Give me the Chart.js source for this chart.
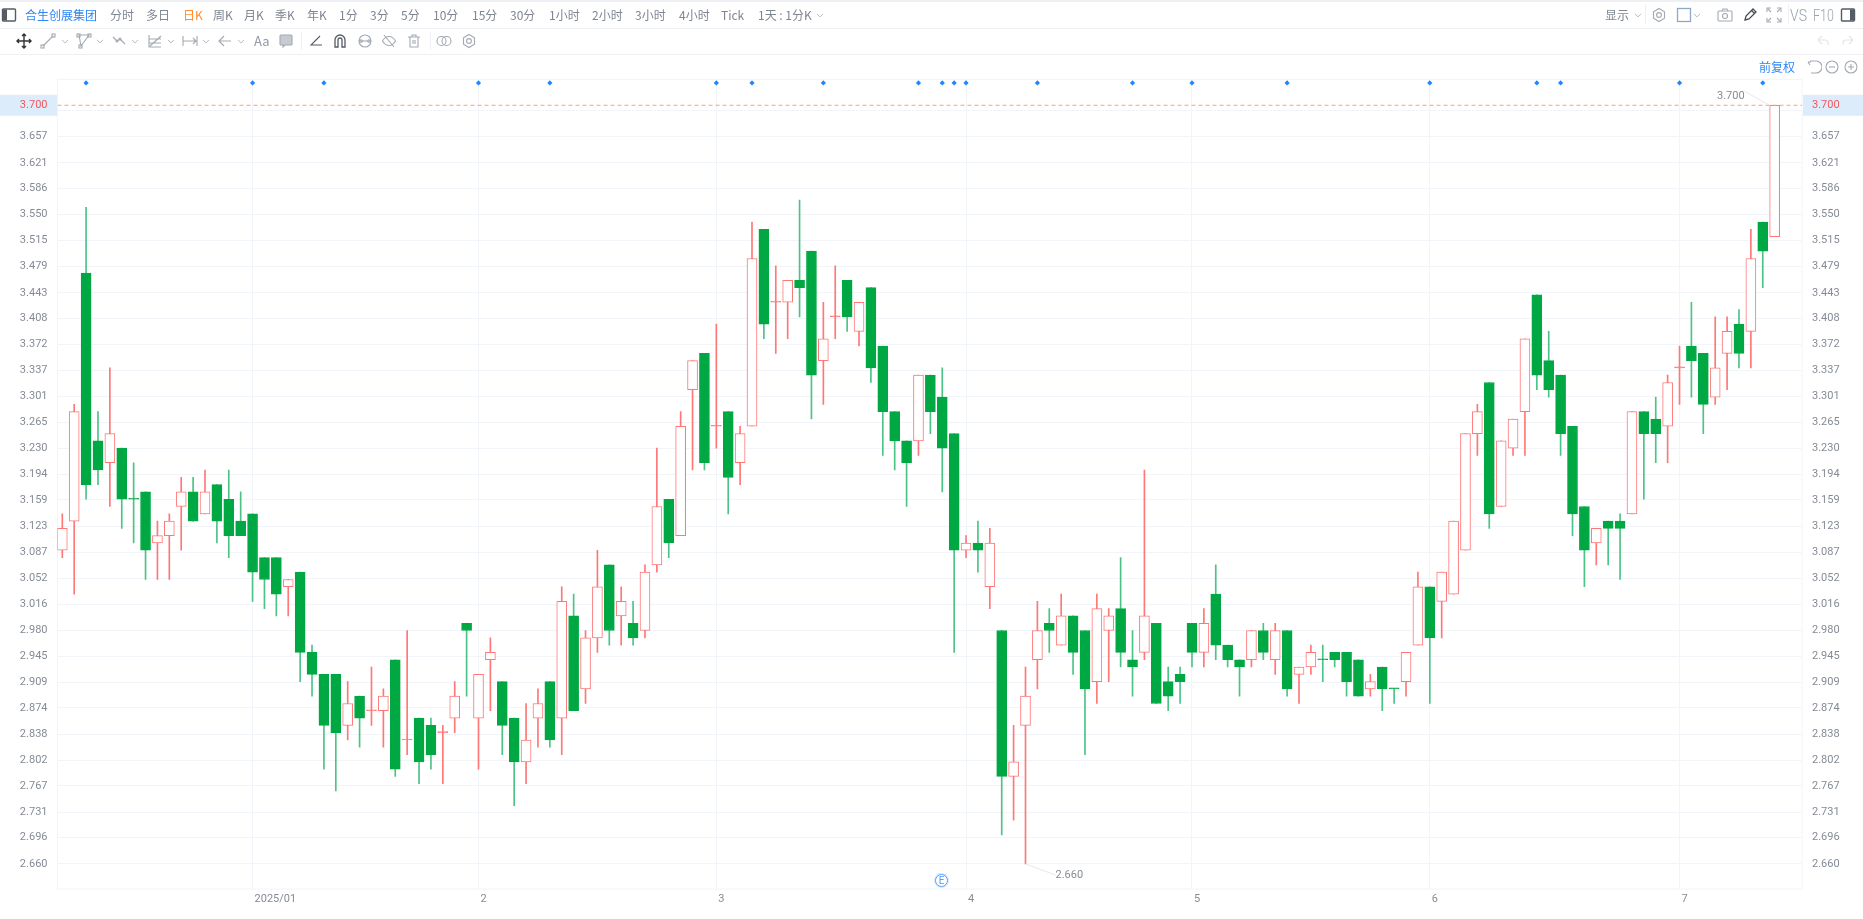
<!DOCTYPE html>
<html>
<head>
<meta charset="utf-8">
<title>合生创展集团 日K</title>
<script src="https://cdn.jsdelivr.net/npm/chart.js@4"></script>
<style>
html, body { margin: 0; padding: 0; background: #fff; overflow: hidden; }
#wrap { position: relative; width: 1863px; height: 919px; overflow: hidden; font-family: "Noto Sans CJK SC", "Noto Sans", sans-serif; }
canvas { position: absolute; left: 0; top: 0; }
.t { position: absolute; font-size: 12px; line-height: 16px; color: #7f8691; white-space: nowrap; transform: translateY(-50%); }
.rule { position: absolute; background: #eef0f3; }
svg.i { position: absolute; transform: translate(-50%, -50%); fill: none; stroke: #a3a9b2; stroke-width: 1.1; }
#ev { position: absolute; left: 935px; top: 874px; width: 11px; height: 11px; border: 1.5px solid #4d9fff; border-radius: 50%; font: 10px/11px Roboto, sans-serif; color: #4d9fff; text-align: center; box-shadow: 0 0 0 1px #d5e8ff; }
</style>
</head>
<body>
<div id="wrap">
  <canvas id="chart1" width="1863" height="919"></canvas>
  <div id="bar"></div>
  <div id="ev">E</div>
</div>
<script>
const opens = [
  3.09,3.13,3.47,3.24,3.21,3.23,3.16,3.17,3.10,3.11,
  3.15,3.17,3.14,3.18,3.16,3.13,3.14,3.08,3.08,3.04,
  3.06,2.95,2.92,2.92,2.85,2.89,2.87,2.87,2.94,2.83,
  2.86,2.85,2.84,2.86,2.99,2.86,2.94,2.91,2.86,2.80,
  2.86,2.91,2.86,3.00,2.90,2.97,3.07,3.00,2.99,2.98,
  3.07,3.16,3.11,3.31,3.36,3.26,3.28,3.21,3.26,3.53,
  3.43,3.43,3.46,3.50,3.35,3.41,3.46,3.39,3.45,3.37,
  3.28,3.24,3.24,3.33,3.30,3.25,3.09,3.10,3.04,2.98,
  2.78,2.85,2.94,2.99,2.96,3.00,2.98,2.91,2.98,3.01,
  2.94,2.95,2.99,2.91,2.92,2.99,2.95,3.03,2.96,2.94,
  2.94,2.98,2.94,2.98,2.92,2.93,2.94,2.95,2.95,2.94,
  2.90,2.93,2.90,2.91,2.96,3.04,3.02,3.03,3.09,3.25,
  3.32,3.15,3.23,3.28,3.44,3.35,3.33,3.26,3.15,3.10,
  3.13,3.13,3.14,3.28,3.27,3.26,3.34,3.37,3.36,3.30,
  3.36,3.40,3.39,3.54,3.52];
const highs = [
  3.14,3.29,3.56,3.28,3.34,3.23,3.21,3.17,3.13,3.14,
  3.19,3.19,3.20,3.18,3.20,3.17,3.14,3.08,3.08,3.05,
  3.06,2.96,2.92,2.92,2.91,2.89,2.93,2.90,2.94,2.98,
  2.86,2.86,2.85,2.91,2.99,2.92,2.97,2.91,2.86,2.88,
  2.90,2.91,3.04,3.03,2.98,3.09,3.07,3.04,3.02,3.07,
  3.23,3.16,3.28,3.35,3.36,3.40,3.28,3.26,3.54,3.53,
  3.48,3.46,3.57,3.50,3.43,3.48,3.46,3.43,3.45,3.37,
  3.28,3.24,3.33,3.33,3.34,3.25,3.11,3.13,3.12,2.98,
  2.85,2.93,3.02,3.01,3.03,3.00,2.98,3.03,3.01,3.08,
  2.98,3.20,2.99,2.93,2.93,2.99,3.01,3.07,2.96,2.94,
  2.98,2.99,2.99,2.98,2.93,2.96,2.96,2.95,2.95,2.94,
  2.92,2.93,2.90,2.95,3.06,3.04,3.06,3.13,3.25,3.29,
  3.32,3.24,3.27,3.38,3.44,3.39,3.33,3.26,3.15,3.12,
  3.13,3.14,3.28,3.28,3.30,3.33,3.37,3.43,3.36,3.41,
  3.41,3.42,3.53,3.54,3.70];
const lows = [
  3.08,3.03,3.16,3.18,3.15,3.12,3.10,3.05,3.05,3.05,
  3.09,3.13,3.14,3.10,3.08,3.11,3.02,3.01,3.00,3.00,
  2.91,2.89,2.79,2.76,2.83,2.82,2.85,2.82,2.78,2.81,
  2.77,2.79,2.77,2.84,2.89,2.79,2.87,2.81,2.74,2.77,
  2.82,2.82,2.81,2.87,2.88,2.95,2.96,2.96,2.96,2.97,
  3.06,3.08,3.11,3.20,3.20,3.23,3.14,3.18,3.26,3.38,
  3.36,3.38,3.41,3.27,3.29,3.38,3.39,3.37,3.32,3.22,
  3.20,3.15,3.22,3.25,3.17,2.95,3.08,3.06,3.01,2.70,
  2.72,2.66,2.90,2.95,2.96,2.92,2.81,2.88,2.91,2.93,
  2.89,2.94,2.88,2.87,2.88,2.93,2.93,2.94,2.93,2.89,
  2.93,2.94,2.92,2.89,2.88,2.92,2.91,2.93,2.89,2.89,
  2.89,2.87,2.88,2.89,2.96,2.88,2.97,3.03,3.09,3.22,
  3.12,3.15,3.22,3.22,3.31,3.30,3.22,3.11,3.04,3.07,
  3.07,3.05,3.14,3.16,3.21,3.21,3.29,3.30,3.25,3.29,
  3.31,3.34,3.34,3.45,3.52];
const closes = [
  3.12,3.28,3.18,3.20,3.25,3.16,3.16,3.09,3.11,3.13,
  3.17,3.13,3.17,3.13,3.11,3.11,3.06,3.05,3.03,3.05,
  2.95,2.92,2.85,2.84,2.88,2.86,2.87,2.89,2.79,2.83,
  2.80,2.81,2.84,2.89,2.98,2.92,2.95,2.85,2.80,2.83,
  2.88,2.83,3.02,2.87,2.97,3.04,2.98,3.02,2.97,3.06,
  3.15,3.10,3.26,3.35,3.21,3.26,3.19,3.25,3.49,3.40,
  3.43,3.46,3.45,3.33,3.38,3.41,3.41,3.43,3.34,3.28,
  3.24,3.21,3.33,3.28,3.23,3.09,3.10,3.09,3.10,2.78,
  2.80,2.89,2.98,2.98,3.00,2.95,2.90,3.01,3.00,2.95,
  2.93,3.00,2.88,2.89,2.91,2.95,2.99,2.96,2.94,2.93,
  2.98,2.95,2.98,2.90,2.93,2.95,2.94,2.94,2.91,2.89,
  2.91,2.90,2.90,2.95,3.04,2.97,3.06,3.13,3.25,3.28,
  3.14,3.24,3.27,3.38,3.33,3.31,3.25,3.14,3.09,3.12,
  3.12,3.12,3.28,3.25,3.25,3.32,3.34,3.35,3.29,3.34,
  3.39,3.36,3.49,3.50,3.70];

// sessions where the month changes, and the label under each
const monthIndex = [16, 35, 55, 76, 95, 115, 136];
const monthLabels = ['2025/01', '2', '3', '4', '5', '6', '7'];
// sessions flagged with a blue dot in the top row
const eventIndex = [2, 16, 22, 35, 41, 55, 58, 64, 72, 74, 75, 76, 82, 90, 95, 103, 115, 124, 126, 136, 143];

const priceTicks = [2.660,2.696,2.731,2.767,2.802,2.838,2.874,2.909,2.945,2.980,3.016,3.052,3.087,3.123,3.159,3.194,3.230,3.265,3.301,3.337,3.372,3.408,3.443,3.479,3.515,3.550,3.586,3.621,3.657,3.693];
const lastPrice = 3.700;
const highPrice = 3.700;
const lowPrice = 2.660;
const eventRowPrice = 3.7306;

const RED = '#ff7777', GREEN = '#00a843', GREEN_WICK = '#4cc386', GRID = '#f1f4f8', TXT = '#858b95';
const AXIS_FONT = { family: 'Roboto', size: 11 };

function isUp(i) {
  if (closes[i] !== opens[i]) return closes[i] > opens[i];
  return i > 0 && closes[i] > closes[i - 1];
}
const idx = opens.map((v, i) => i);
const bodyData = idx.map(i => ({ x: i, y: [Math.min(opens[i], closes[i]), Math.max(opens[i], closes[i])] }));
const wickData = idx.map(i => ({ x: i, y: [lows[i], highs[i]] }));
const eventData = eventIndex.map(i => ({ x: i, y: eventRowPrice }));

const X_MIN = -0.404, X_MAX = 146.3;

function sideTicks(isRight) {
  return {
    min: 2.6257, max: 3.7356,
    position: isRight ? 'right' : 'left',
    afterBuildTicks: s => { s.ticks = priceTicks.concat(lastPrice).map(v => ({ value: v })); },
    afterFit: s => { s.width = isRight ? 61 : 57.5; },
    border: { display: false },
    grid: {
      drawOnChartArea: !isRight, drawTicks: false,
      color: c => (c.tick && c.tick.value === lastPrice ? 'transparent' : GRID)
    },
    ticks: {
      padding: 10, autoSkip: false, font: AXIS_FONT,
      color: c => (c.tick.value === lastPrice ? '#f2575f' : TXT),
      callback: v => (v === 3.693 ? '' : v.toFixed(3))
    }
  };
}

const decor = {
  id: 'decor',
  beforeDraw(chart) {
    const c = chart.ctx, a = chart.chartArea, y = chart.scales.y.getPixelForValue(lastPrice);
    c.save();
    c.fillStyle = '#ddecfb';
    c.fillRect(0, y - 10.5, a.left, 21);
    c.fillRect(a.right + 1, y - 10.5, 1863 - a.right - 1, 21);
    c.strokeStyle = GRID;
    c.strokeRect(a.left, a.top, a.right - a.left, a.bottom - a.top);
    c.restore();
  },
  afterDraw(chart) {
    const c = chart.ctx, xs = chart.scales.x, ys = chart.scales.y;
    const hx = xs.getPixelForValue(highs.indexOf(highPrice)), hy = ys.getPixelForValue(highPrice);
    const lx = xs.getPixelForValue(lows.indexOf(lowPrice)), ly = ys.getPixelForValue(lowPrice);
    c.save();
    c.strokeStyle = '#e4e7ec';
    c.beginPath();
    c.moveTo(hx - 5, hy); c.lineTo(hx - 30, hy - 14);
    c.moveTo(lx, ly); c.lineTo(lx + 30, ly + 11);
    c.stroke();
    c.fillStyle = TXT;
    c.font = '11px Roboto';
    c.textBaseline = 'middle';
    c.textAlign = 'right';
    c.fillText(highPrice.toFixed(3), hx - 30, hy - 9);
    c.textAlign = 'left';
    c.fillText(lowPrice.toFixed(3), lx + 30, ly + 11);
    c.restore();
  }
};

const chart1 = new Chart(document.getElementById('chart1').getContext('2d'), {
  type: 'bar',
  data: {
    datasets: [
      { type: 'scatter', data: eventData, order: 0, pointStyle: 'rectRot', pointRadius: 2.6, backgroundColor: '#1f86ff', borderWidth: 0, clip: false },
      { type: 'line', data: [{ x: X_MIN, y: lastPrice }, { x: X_MAX, y: lastPrice }], order: 1, borderColor: '#ffa264', borderWidth: 1, borderDash: [4, 3], pointRadius: 0 },
      {
        data: bodyData, order: 2, barThickness: 10, minBarLength: 1, grouped: false, borderWidth: 1, borderSkipped: false,
        backgroundColor: c => (isUp(c.dataIndex) ? (opens[c.dataIndex] === closes[c.dataIndex] ? RED : '#fff') : GREEN),
        borderColor: c => (isUp(c.dataIndex) ? RED : GREEN)
      },
      {
        data: wickData, order: 3, barThickness: 1, grouped: false, borderWidth: 0,
        backgroundColor: c => (isUp(c.dataIndex) ? RED : GREEN_WICK)
      }
    ]
  },
  plugins: [decor],
  options: {
    responsive: false, animation: false, devicePixelRatio: 1,
    layout: { padding: { top: 79.3, left: 0, right: 0, bottom: 0 } },
    plugins: { legend: { display: false }, tooltip: { enabled: false } },
    scales: {
      x: {
        type: 'linear', min: X_MIN, max: X_MAX, offset: false,
        afterBuildTicks: s => { s.ticks = monthIndex.map(v => ({ value: v })); },
        afterFit: s => { s.height = 30; },
        border: { display: false },
        grid: { color: GRID, drawTicks: false, offset: false },
        ticks: {
          align: 'start', labelOffset: 2, padding: 4, maxRotation: 0, autoSkip: false, font: AXIS_FONT, color: TXT,
          callback: v => monthLabels[monthIndex.indexOf(v)]
        }
      },
      y: sideTicks(false),
      y2: sideTicks(true)
    }
  }
});

// toolbar around the chart
const periods = [['分时',110],['多日',146],['周K',213],['月K',244],['季K',275],['年K',307],['1分',339],['3分',370],['5分',401],['10分',433],['15分',472],['30分',510],['1小时',549],['2小时',592],['3小时',635],['4小时',679],['Tick',721],['1天 : 1分K',758],['显示',1605]];
const bar = document.getElementById('bar');
function text(s, x, y, css) {
  const d = document.createElement('div');
  d.className = 't'; d.textContent = s;
  d.style.left = x + 'px'; d.style.top = y + 'px';
  if (css) d.style.cssText += css;
  bar.appendChild(d);
}
function rule(x, y, w, h) {
  const d = document.createElement('div');
  d.className = 'rule';
  d.style.cssText = `left:${x}px;top:${y}px;width:${w}px;height:${h}px`;
  bar.appendChild(d);
}
function icon(paths, x, y, css) {
  bar.insertAdjacentHTML('beforeend', `<svg class="i" width="16" height="16" viewBox="0 0 16 16" style="left:${x}px;top:${y}px;${css || ''}">${paths}</svg>`);
}
const CHEV = '<path d="M4 6.5l4 4 4-4"/>';
const GEAR = '<path d="M8 1.5l5.5 3.2v6.6L8 14.5l-5.5-3.2V4.700z"/><circle cx="8" cy="8" r="2.400"/>';
const PANEL = '<rect x="1.500" y="2" width="13" height="12" rx="1"/>';

rule(0, 0, 1863, 1.5); rule(0, 28, 1863, 1); rule(0, 54, 1863, 1);
rule(301, 32, 1, 18); rule(430, 32, 1, 18); rule(1645, 4, 1, 20); rule(1788, 4, 1, 20);

text('合生创展集团', 25, 15, 'color:#2f86f6');
text('日K', 183, 15, 'color:#ff8b33');
periods.forEach(p => text(p[0], p[1], 15));
text('VS', 1790, 15, 'font:300 16px Roboto;color:#98a2ad;transform-origin:left center;transform:translateY(-50%) scaleX(.88)');
text('F10', 1813, 15, 'font:300 16px Roboto;color:#98a2ad;transform-origin:left center;transform:translateY(-50%) scaleX(.78)');
text('前复权', 1759, 67, 'color:#2f86f6');
text('Aa', 254, 41, 'font-size:13px;color:#9299a3');

icon(PANEL + '<rect x="2" y="2.500" width="4" height="11" fill="#555c66" stroke="none"/>', 9, 15, 'stroke:#555c66;stroke-width:1.4');
icon(PANEL + '<rect x="10" y="2.500" width="4" height="11" fill="#555c66" stroke="none"/>', 1848, 15, 'stroke:#555c66;stroke-width:1.4');
icon('<path d="M8 1v14M1 8h14M6 3l2-2 2 2M6 13l2 2 2-2M3 6L1 8l2 2M13 6l2 2-2 2"/>', 24, 41, 'stroke:#333;stroke-width:1.4');
icon('<path d="M3 13L13 3"/><rect x="1" y="12" width="3" height="3"/><rect x="12" y="1" width="3" height="3"/>', 48, 41);
icon('<path d="M3 2h10L5 13z"/><rect x="1" y="1" width="3" height="3"/><rect x="12" y="1" width="3" height="3"/><rect x="3" y="12" width="3" height="3"/>', 84, 41);
icon('<path d="M2 4l4 4 3-2 5 5"/><circle cx="6" cy="8" r="1"/><circle cx="9" cy="6" r="1"/>', 119, 41);
icon('<path d="M2 2v12h12M2 10h12M2 6h12M3 13L14 3"/>', 155, 41);
icon('<path d="M1 3v10M15 3v10M1 8h14M11 5l3 3-3 3"/>', 190, 41);
icon('<path d="M2 8h12M7 3L2 8l5 5"/>', 225, 41);
icon('<path d="M3 2h10a1 1 0 011 1v8a1 1 0 01-1 1H7l-2 2v-2H3a1 1 0 01-1-1V3a1 1 0 011-1z" fill="#c6cbd2"/>', 286, 41);
icon('<path d="M12 3L3 12h11"/>', 316, 41, 'stroke:#555c66');
icon('<path d="M3 14V7a5 5 0 0110 0v7h-3V7a2 2 0 00-4 0v7z"/>', 340, 41, 'stroke:#555c66;stroke-width:1.3');
icon('<circle cx="8" cy="8" r="6"/><path d="M2 8h12"/><circle cx="4" cy="8" r="1.300"/><circle cx="12" cy="8" r="1.300"/>', 365, 41);
icon('<path d="M1.500 8s2.500-4.500 6.500-4.500S14.500 8 14.500 8 12 12.500 8 12.500 1.500 8 1.500 8z"/><path d="M3 2l10 12"/>', 389, 41);
icon('<path d="M2 4h12M6 4V2h4v2M4 4v10h8V4M7 7v4M9 7v4"/>', 414, 41);
icon('<circle cx="5.500" cy="8" r="4.500"/><circle cx="10.500" cy="8" r="4.500"/>', 444, 41);
icon(GEAR, 469, 41);
[65, 100, 135, 171, 206, 241].forEach(x => icon(CHEV, x, 41, 'width:12px;height:12px'));
icon(CHEV, 820, 15, 'width:12px;height:12px');
icon(CHEV, 1638, 15, 'width:12px;height:12px');
icon(CHEV, 1697, 15, 'width:12px;height:12px');
icon(GEAR, 1659, 15);
icon('<rect x="1.500" y="1.500" width="13" height="13"/>', 1684, 15, 'stroke:#8fa8c8;stroke-width:1.3');
icon('<rect x="1" y="4" width="14" height="10" rx="1"/><circle cx="8" cy="9" r="2.500"/><path d="M5 4l1-2h4l1 2"/>', 1725, 15);
icon('<path d="M3 13l1-4 7-7 3 3-7 7z"/><path d="M9.500 3.500l3 3"/>', 1750, 15, 'stroke:#444b55;stroke-width:1.3');
icon('<path d="M1 5V1h4M15 5V1h-4M1 11v4h4M15 11v4h-4M2 2l3 3M14 2l-3 3M2 14l3-3M14 14l-3-3"/>', 1774, 15);
icon('<path d="M3 7l4-4M3 7l4 4M3 7h7a3 3 0 013 3v2"/>', 1823, 41, 'stroke:#e2e5e9');
icon('<path d="M13 7L9 3M13 7l-4 4M13 7H6a3 3 0 00-3 3v2"/>', 1848, 41, 'stroke:#e2e5e9');
icon('<path d="M2 3l2 3M2 3h3M4 2h6a5 5 0 010 12H5"/>', 1814, 67);
icon('<circle cx="8" cy="8" r="6"/><path d="M5 8h6"/>', 1832, 67);
icon('<circle cx="8" cy="8" r="6"/><path d="M5 8h6M8 5v6"/>', 1851, 67);
</script>
</body>
</html>
